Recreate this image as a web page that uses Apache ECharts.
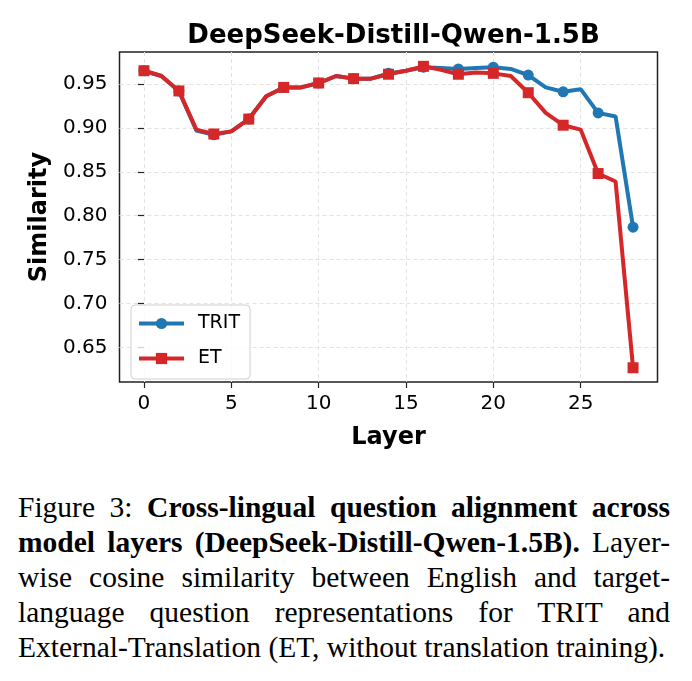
<!DOCTYPE html>
<html lang="en">
<head>
  <meta charset="UTF-8" />
  <title>Cross-lingual question alignment</title>
  <script src="https://cdn.jsdelivr.net/npm/echarts@6/dist/echarts.min.js"></script>
  <style>
    html, body { margin: 0; padding: 0; background: #fff; }
    #wrap { position: relative; width: 692px; height: 681px; overflow: hidden; }
    #chart { position: absolute; left: 0; top: 0; width: 692px; height: 470px; }
    #caption {
      position: absolute; left: 18px; top: 490px; width: 652px;
      font-family: "Liberation Serif", "Times New Roman", serif;
      font-size: 29.5px; line-height: 35px; color: #000;
    }
    #caption div { text-align: justify; text-align-last: justify; white-space: nowrap; }
    #caption div.last { text-align-last: left; }
  </style>
</head>
<body>
  <div id="wrap">
    <div id="chart"></div>
    <div id="caption">
      <div>Figure 3: <b>Cross-lingual question alignment across</b></div>
      <div><b>model layers (DeepSeek-Distill-Qwen-1.5B).</b> Layer-</div>
      <div>wise cosine similarity between English and target-</div>
      <div>language question representations for TRIT and</div>
      <div class="last">External-Translation (ET, without translation training).</div>
    </div>
  </div>
<script type="text/javascript">
  // 資料
  var layers = [0, 1, 2, 3, 4, 5, 6, 7, 8, 9, 10, 11, 12, 13, 14, 15, 16, 17, 18, 19, 20, 21, 22, 23, 24, 25, 26, 27, 28];
  var tritValues = [0.965, 0.959, 0.942, 0.897, 0.892, 0.896, 0.910, 0.936, 0.946, 0.946, 0.951, 0.959, 0.956, 0.956, 0.962,
    0.965, 0.969, 0.968, 0.967, 0.968, 0.969, 0.967, 0.960, 0.946, 0.941, 0.944, 0.917, 0.913, 0.787];
  var etValues = [0.965, 0.959, 0.942, 0.898, 0.893, 0.896, 0.910, 0.936, 0.946, 0.946, 0.951, 0.959, 0.956, 0.956, 0.961,
    0.965, 0.970, 0.966, 0.961, 0.963, 0.962, 0.959, 0.940, 0.917, 0.903, 0.898, 0.848, 0.839, 0.627];
  var xTicks = [0, 5, 10, 15, 20, 25];
  var yTicks = [0.65, 0.70, 0.75, 0.80, 0.85, 0.90, 0.95];

  var FONT = 'DejaVu Sans';

  function pairs(vals) {
    return layers.map(function (l, i) { return [l, vals[i]]; });
  }

  // markevery = 2
  function markEvery(v, params) {
    return params.dataIndex % 2 === 0 ? 11 : 0;
  }

  var myChart = echarts.init(document.getElementById('chart'));

  var gridLine = { show: true, lineStyle: { color: '#e3e3e3', type: [4, 3], width: 1 } };

  myChart.setOption({
    animation: false,
    title: {
      text: 'DeepSeek-Distill-Qwen-1.5B',
      left: 388.5,
      textAlign: 'center',
      top: 18,
      textStyle: { fontFamily: FONT, fontWeight: 'bold', fontSize: 26, color: '#000' }
    },
    legend: {
      orient: 'vertical',
      left: 131,
      top: 305,
      padding: [9, 10, 11, 6],
      itemWidth: 45,
      itemHeight: 14,
      itemGap: 16,
      backgroundColor: 'rgba(255,255,255,0.8)',
      borderColor: '#d0d0d0',
      borderWidth: 1,
      borderRadius: 4,
      selectedMode: false,
      lineStyle: { width: 4 },
      textStyle: { fontFamily: FONT, fontSize: 19, color: '#000', padding: [0, 0, 0, 9] },
      data: ['TRIT', 'ET']
    },
    grid: {
      left: 119.5, right: 34.5, top: 52, bottom: 88,
      show: true, borderColor: '#222', borderWidth: 1.5
    },
    xAxis: {
      type: 'value',
      min: -1.4,
      max: 29.4,
      name: 'Layer',
      nameLocation: 'middle',
      nameGap: 44,
      nameTextStyle: { fontFamily: FONT, fontWeight: 'bold', fontSize: 24, color: '#000' },
      axisLine: { show: false },
      axisTick: { show: true, inside: false, length: 6, lineStyle: { color: '#222', width: 1.2 }, customValues: xTicks },
      axisLabel: { fontFamily: FONT, fontSize: 20, color: '#000', margin: 12, customValues: xTicks },
      splitLine: gridLine
    },
    yAxis: {
      type: 'value',
      min: 0.6108,
      max: 0.9863,
      name: 'Similarity',
      nameLocation: 'middle',
      nameGap: 66,
      nameTextStyle: { fontFamily: FONT, fontWeight: 'bold', fontSize: 24, color: '#000' },
      axisLine: { show: false },
      axisTick: { show: true, inside: false, length: 6, lineStyle: { color: '#222', width: 1.2 }, customValues: yTicks },
      axisLabel: {
        fontFamily: FONT, fontSize: 20, color: '#000', margin: 12, customValues: yTicks,
        formatter: function (v) { return v.toFixed(2); }
      },
      splitLine: gridLine
    },
    series: [
      {
        name: 'TRIT',
        type: 'line',
        data: pairs(tritValues),
        symbol: 'circle',
        symbolSize: markEvery,
        color: '#1f77b4',
        lineStyle: { width: 4, color: '#1f77b4' },
        itemStyle: { color: '#1f77b4' }
      },
      {
        name: 'ET',
        type: 'line',
        data: pairs(etValues),
        symbol: 'rect',
        symbolSize: markEvery,
        color: '#d62728',
        lineStyle: { width: 4, color: '#d62728' },
        itemStyle: { color: '#d62728' }
      }
    ]
  });
</script>
</body>
</html>
